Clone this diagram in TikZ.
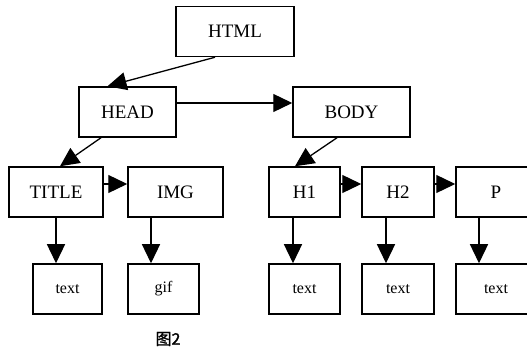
\documentclass[tikz,border=0pt]{standalone}
\usepackage{fontspec}
\setmainfont{Liberation Serif}
\newfontfamily\cjk[FakeBold=1.5]{Noto Sans CJK SC}
\usetikzlibrary{arrows.meta}

\begin{document}
\begin{tikzpicture}[
    x=1pt, y=-1pt,
    tag/.style={draw, line width=1.5pt, minimum height=50pt, inner sep=0pt,
                font=\fontsize{19}{22}\selectfont},
    leaf/.style={tag, font=\fontsize{16}{19}\selectfont},
    link/.style={-{Triangle[length=19pt,width=18pt]}, line width=1.3pt}
]

\clip (0,0) rectangle (527,347);

\node[tag, minimum width=118pt] (HTML)  at (235,31.5)  {HTML};
\node[tag, minimum width=97pt]  (HEAD)  at (127.5,112) {HEAD};
\node[tag, minimum width=117pt] (BODY)  at (351.5,112) {BODY};
\node[tag, minimum width=94pt]  (TITLE) at (56,192)    {TITLE};
\node[tag, minimum width=95pt]  (IMG)   at (175.5,192) {IMG};
\node[tag, minimum width=71pt]  (H1)    at (304.5,192) {H1};
\node[tag, minimum width=72pt]  (H2)    at (398,192)   {H2};
\node[tag, minimum width=80pt]  (P)     at (496,192)   {P};

\node[leaf, minimum width=69pt] (txtitle) at (67.5,289)  {text};
\node[leaf, minimum width=71pt] (gif)     at (163.5,289) {gif};
\node[leaf, minimum width=71pt] (txhone)  at (304.5,289) {text};
\node[leaf, minimum width=72pt] (txhtwo)  at (398,289)   {text};
\node[leaf, minimum width=80pt] (txp)     at (496,289)   {text};

\node[font=\cjk\fontsize{16}{18}\selectfont] (cap) at (168,339) {图2};

\draw[link] ([xshift=-20pt]HTML.south) -- ([xshift=-20pt]HEAD.north);
\draw[link] ([yshift=9pt]HEAD.east) -- ([yshift=9pt]BODY.west);
\draw[link] ([xshift=-26.5pt]HEAD.south) -- ([xshift=4pt]TITLE.north);
\draw[link] ([xshift=-14.5pt]BODY.south) -- ([xshift=-9.5pt]H1.north);
\draw[link] ([yshift=8pt]TITLE.east) -- ([yshift=8pt]IMG.west);
\draw[link] ([yshift=8pt]H1.east) -- ([yshift=8pt]H2.west);
\draw[link] ([yshift=8pt]H2.east) -- ([yshift=8pt]P.west);

\draw[link] (TITLE.south) -- (TITLE.south |- txtitle.north);
\draw[link] ([xshift=-24.5pt]IMG.south) -- ([xshift=-12.5pt]gif.north);
\draw[link] ([xshift=-11.5pt]H1.south) -- ([xshift=-11.5pt]txhone.north);
\draw[link] ([xshift=-12pt]H2.south) -- ([xshift=-12pt]txhtwo.north);
\draw[link] ([xshift=-17pt]P.south) -- ([xshift=-17pt]txp.north);

\end{tikzpicture}
\end{document}
